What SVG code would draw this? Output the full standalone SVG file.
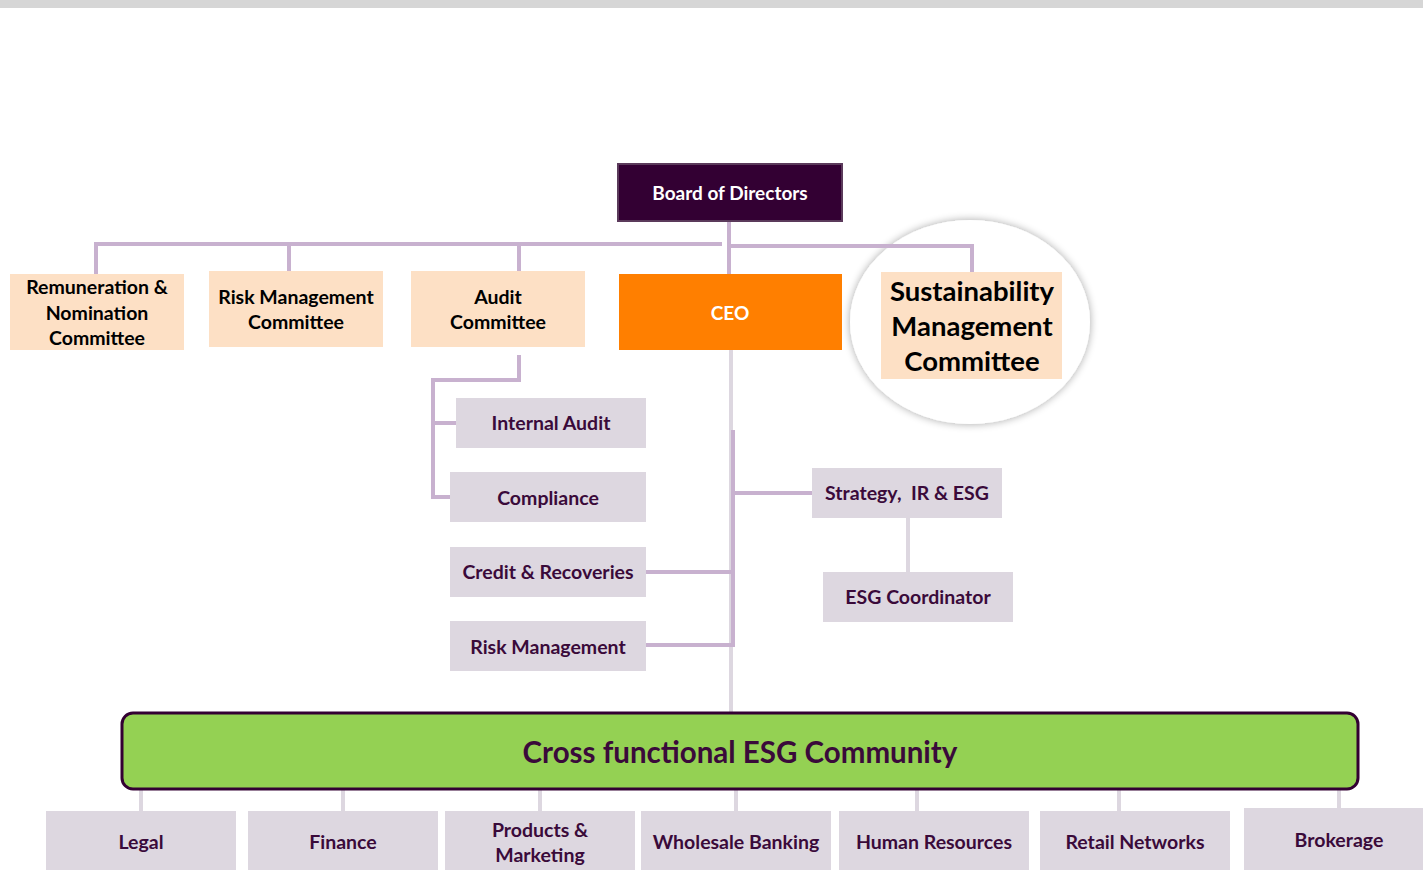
<svg xmlns="http://www.w3.org/2000/svg" width="1423" height="870" viewBox="0 0 1423 870">
<defs>
<style>
text{font-family:Lato,"Liberation Sans",sans-serif;font-weight:bold;text-anchor:middle;dominant-baseline:central}
.peach{fill:#fde0c5}
.grey{fill:#ddd7e0}
.dk{fill:#3a0a3a;font-size:19.5px}
.bk{fill:#000;font-size:19.5px}
.con{stroke:#c8b1cf;stroke-width:4;fill:none}
.lcon{stroke:#ddd7e0;stroke-width:4;fill:none}
</style>
<filter id="sh" x="-20%" y="-20%" width="140%" height="140%">
<feGaussianBlur in="SourceAlpha" stdDeviation="4"/>
<feComponentTransfer><feFuncA type="linear" slope="0.35"/></feComponentTransfer>
<feMerge><feMergeNode/><feMergeNode in="SourceGraphic"/></feMerge>
</filter>
</defs>
<rect x="0" y="0" width="1423" height="870" fill="#fff"/>
<rect x="0" y="0" width="1423" height="8" fill="#d6d6d6"/>

<g id="sustainability-halo">
<ellipse cx="970" cy="322" rx="120" ry="102" fill="#fff" filter="url(#sh)"/>
</g>

<g id="connectors">
<path class="con" d="M729 221V274M96 274V244H722M727 246H972V272M289 244V271M519 244V271"/>
<path class="con" d="M519 355V380H433V497H450M433 423H456"/>
<path class="lcon" d="M731 350V712"/>
<path class="con" d="M733 430V645H646M733 572H646M733 493H812"/>
<path class="lcon" d="M908 518V572"/>
<path class="lcon" d="M141 760V811M343 760V811M540 760V811M736 760V811M917 760V811M1119 760V811M1339 760V808"/>
</g>

<g id="board">
<rect x="618" y="164" width="224" height="57" fill="#330033" stroke="#5b3a5b" stroke-width="2"/>
<text x="730" y="192" fill="#fff" font-size="19">Board of Directors</text>
</g>
<g id="remuneration">
<rect class="peach" x="10" y="274" width="174" height="76"/>
<text class="bk" x="97" y="286">Remuneration &amp;</text>
<text class="bk" x="97" y="312">Nomination</text>
<text class="bk" x="97" y="337">Committee</text>
</g>
<g id="riskcom">
<rect class="peach" x="209" y="271" width="174" height="76"/>
<text class="bk" x="296" y="296">Risk Management</text>
<text class="bk" x="296" y="321">Committee</text>
</g>
<g id="auditcom">
<rect class="peach" x="411" y="271" width="174" height="76"/>
<text class="bk" x="498" y="296">Audit</text>
<text class="bk" x="498" y="321">Committee</text>
</g>
<g id="ceo">
<rect x="619" y="274" width="223" height="76" fill="#ff7f00"/>
<text x="730" y="312" fill="#fff" font-size="19">CEO</text>
</g>
<g id="sustainability">
<rect class="peach" x="881" y="272" width="181" height="107"/>
<text x="972" y="290" fill="#000" font-size="27.5">Sustainability</text>
<text x="972" y="325" fill="#000" font-size="27.5">Management</text>
<text x="972" y="360" fill="#000" font-size="27.5">Committee</text>
</g>
<g id="internalaudit">
<rect class="grey" x="456" y="398" width="190" height="50"/>
<text class="dk" x="551" y="422">Internal Audit</text>
</g>
<g id="compliance">
<rect class="grey" x="450" y="472" width="196" height="50"/>
<text class="dk" x="548" y="497">Compliance</text>
</g>
<g id="credit">
<rect class="grey" x="450" y="547" width="196" height="50"/>
<text class="dk" x="548" y="571">Credit &amp; Recoveries</text>
</g>
<g id="riskmgmt">
<rect class="grey" x="450" y="621" width="196" height="50"/>
<text class="dk" x="548" y="646">Risk Management</text>
</g>
<g id="strategy">
<rect class="grey" x="812" y="468" width="190" height="50"/>
<text class="dk" x="907" y="492" xml:space="preserve" style="white-space:pre">Strategy,  IR &amp; ESG</text>
</g>
<g id="esgcoord">
<rect class="grey" x="823" y="572" width="190" height="50"/>
<text class="dk" x="918" y="596">ESG Coordinator</text>
</g>
<g id="community">
<rect x="122" y="713" width="1236" height="76" rx="11" fill="#94d153" stroke="#330033" stroke-width="3"/>
<text x="740" y="751" fill="#3a0a3a" font-size="29.5">Cross functional ESG Community</text>
</g>
<g id="legal"><rect class="grey" x="46" y="811" width="190" height="59"/><text class="dk" x="141" y="841">Legal</text></g>
<g id="finance"><rect class="grey" x="248" y="811" width="190" height="59"/><text class="dk" x="343" y="841">Finance</text></g>
<g id="products"><rect class="grey" x="445" y="811" width="190" height="59"/><text class="dk" x="540" y="829">Products &amp;</text><text class="dk" x="540" y="854">Marketing</text></g>
<g id="wholesale"><rect class="grey" x="641" y="811" width="190" height="59"/><text class="dk" x="736" y="841">Wholesale Banking</text></g>
<g id="hr"><rect class="grey" x="839" y="811" width="190" height="59"/><text class="dk" x="934" y="841">Human Resources</text></g>
<g id="retail"><rect class="grey" x="1040" y="811" width="190" height="59"/><text class="dk" x="1135" y="841">Retail Networks</text></g>
<g id="brokerage"><rect class="grey" x="1244" y="808" width="179" height="62"/><text class="dk" x="1339" y="839">Brokerage</text></g>
</svg>
